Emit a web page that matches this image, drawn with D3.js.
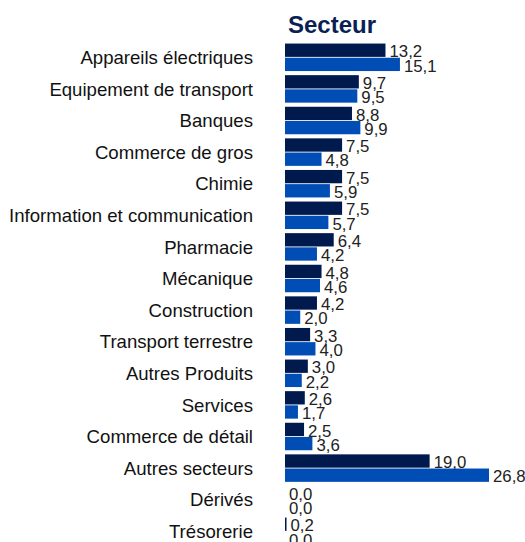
<!DOCTYPE html><meta charset="utf-8">
<title>Secteur</title>
<style>
  body{margin:0;background:#fff;font-family:"Liberation Sans",Arial,sans-serif}
  svg{display:block}
</style>
<script src="https://d3js.org/d3.v7.min.js"></script>
<body><script>
const categories = ["Appareils électriques","Equipement de transport","Banques","Commerce de gros",
  "Chimie","Information et communication","Pharmacie","Mécanique","Construction",
  "Transport terrestre","Autres Produits","Services","Commerce de détail","Autres secteurs",
  "Dérivés","Trésorerie"];
const series = ["a","b"];
const valuesA = [13.2,9.7,8.8,7.5,7.5,7.5,6.4,4.8,4.2,3.3,3.0,2.6,2.5,19.0,0.0,0.2];
const valuesB = [15.1,9.5,9.9,4.8,5.9,5.7,4.2,4.6,2.0,4.0,2.2,1.7,3.6,26.8,0.0,0.0];
const colors = ["#001a4e","#004db5"];

const W = 525, H = 542, x0 = 285;
const svg = d3.select("body").append("svg").attr("width",W).attr("height",H);

svg.append("text").attr("x",288).attr("y",33)
  .attr("font-size",24).attr("font-weight","bold").attr("fill","#0b1f55")
  .text("Secteur");

const x = d3.scaleLinear().domain([0,26.8]).range([x0,489]);
const y = d3.scaleBand().domain(categories).range([41.5,41.5+16*31.6]).paddingInner(0.13).paddingOuter(0.065);
const ys = d3.scaleBand().domain(series).range([0,y.bandwidth()]).paddingInner(0.06);

const fmt = v => d3.format(".1f")(v).replace(".",",");

const rows = categories.map((c,i)=>({c, vals:[valuesA[i],valuesB[i]]}));

const g = svg.selectAll("g.row").data(rows).enter().append("g")
  .attr("transform",d=>`translate(0,${y(d.c)})`);

g.append("text").attr("x",253).attr("y",y.bandwidth()/2).attr("dy","0.36em")
  .attr("text-anchor","end").attr("font-size",18.6).attr("fill","#111")
  .text(d=>d.c);

g.selectAll("rect").data(d=>d.vals.map((v,j)=>({v,s:series[j],j}))).enter().append("rect")
  .attr("x",x0).attr("y",d=>ys(d.s)).attr("height",ys.bandwidth())
  .attr("width",d=>x(d.v)-x0).attr("fill",d=>colors[d.j]);

g.selectAll("text.val").data(d=>d.vals.map((v,j)=>({v,s:series[j]}))).enter().append("text")
  .attr("class","val").attr("x",d=>x(d.v)+4).attr("y",d=>ys(d.s)+ys.bandwidth()+0.5)
  .attr("font-size",16.8).attr("fill","#222").text(d=>fmt(d.v));
</script>
